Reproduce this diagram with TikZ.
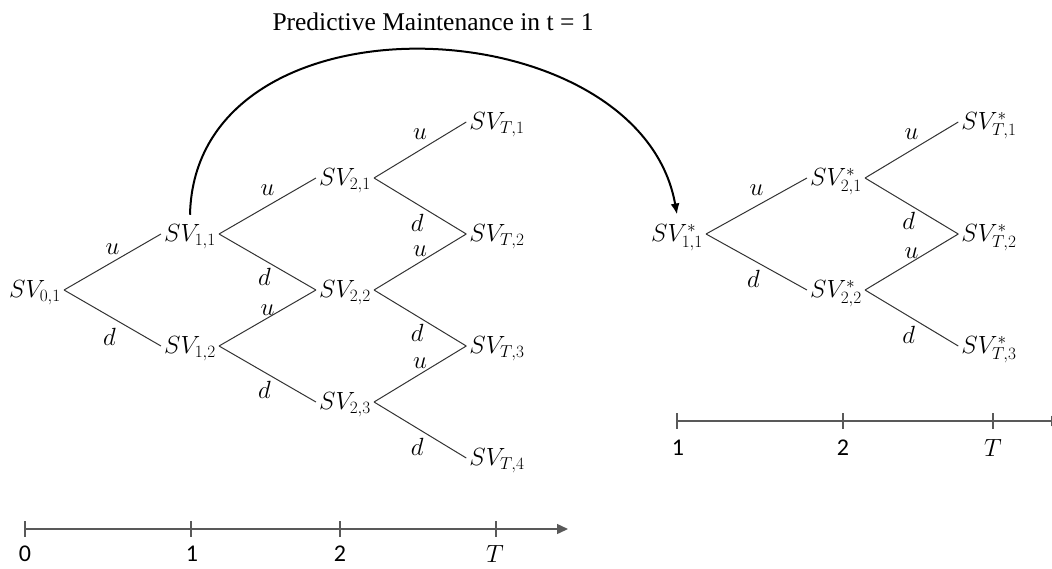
\documentclass[tikz,border=0pt]{standalone}
\usepackage{fontspec}
\setmainfont{Liberation Serif}
\newfontfamily\axisfont{Carlito}
\usetikzlibrary{arrows.meta}
\tikzset{
  sv/.style={font=\fontsize{23}{27}\selectfont, inner xsep=3pt, inner ysep=0pt},
  br/.style={draw=black!80, line width=1pt},
  lu/.style={midway, above=#1, inner sep=0pt, font=\fontsize{23}{27}\selectfont},
  lu/.default=10pt,
  ld/.style={midway, below=#1, xshift=-3pt, inner sep=0pt, font=\fontsize{23}{27}\selectfont},
  ld/.default=8pt,
  axisline/.style={draw=black!65, line width=1.4pt},
  ticklab/.style={font=\axisfont\fontsize{24}{28}\selectfont, inner sep=0pt},
  maint/.style={draw=black, line width=2pt, -{Latex[length=11pt,width=9pt]}},
  titletext/.style={font=\fontsize{25.5}{30}\selectfont, inner sep=0pt}
}
\begin{document}
\begin{tikzpicture}[x=1pt,y=-1pt]
\useasboundingbox (0,0) rectangle (1052,568);

\node[titletext] (title) at (433,22) {Predictive Maintenance in t = 1};

% left tree
\node[sv] (a01) at (35,293) {$SV_{0,1}$};
\node[sv] (a11) at (190,237) {$SV_{1,1}$};
\node[sv] (a12) at (190,349) {$SV_{1,2}$};
\node[sv] (a21) at (345,181) {$SV_{2,1}$};
\node[sv] (a22) at (345,293) {$SV_{2,2}$};
\node[sv] (a23) at (345,405) {$SV_{2,3}$};
\node[sv] (aT1) at (497,125) {$SV_{T,1}$};
\node[sv] (aT2) at (497,237) {$SV_{T,2}$};
\node[sv] (aT3) at (497,349) {$SV_{T,3}$};
\node[sv] (aT4) at (497,461) {$SV_{T,4}$};

\draw[br] ([yshift=3pt]a01.east) -- ([yshift=3pt]a11.west) node[lu=7pt] {$u$};
\draw[br] ([yshift=3pt]a01.east) -- ([yshift=3pt]a12.west) node[ld=10pt] {$d$};
\draw[br] ([yshift=3pt]a11.east) -- ([yshift=3pt]a21.west) node[lu] {$u$};
\draw[br] ([yshift=3pt]a11.east) -- ([yshift=3pt]a22.west) node[ld=6pt] {$d$};
\draw[br] ([yshift=3pt]a12.east) -- ([yshift=3pt]a22.west) node[lu=2pt] {$u$};
\draw[br] ([yshift=3pt]a12.east) -- ([yshift=3pt]a23.west) node[ld=7pt] {$d$};
\draw[br] ([yshift=3pt]a21.east) -- ([yshift=3pt]aT1.west) node[lu] {$u$};
\draw[br] ([yshift=3pt]a21.east) -- ([yshift=3pt]aT2.west) node[ld] {$d$};
\draw[br] ([yshift=3pt]a22.east) -- ([yshift=3pt]aT2.west) node[lu=5pt] {$u$};
\draw[br] ([yshift=3pt]a22.east) -- ([yshift=3pt]aT3.west) node[ld=6pt] {$d$};
\draw[br] ([yshift=3pt]a23.east) -- ([yshift=3pt]aT3.west) node[lu=5pt] {$u$};
\draw[br] ([yshift=3pt]a23.east) -- ([yshift=3pt]aT4.west) node[ld] {$d$};

% right tree
\node[sv] (b11) at (677,238) {$SV^{*}_{1,1}$};
\node[sv] (b21) at (836,182) {$SV^{*}_{2,1}$};
\node[sv] (b22) at (836,294) {$SV^{*}_{2,2}$};
\node[sv] (bT1) at (989,126) {$SV^{*}_{T,1}$};
\node[sv] (bT2) at (989,238) {$SV^{*}_{T,2}$};
\node[sv] (bT3) at (989,350) {$SV^{*}_{T,3}$};

\draw[br] ([yshift=4pt]b11.east) -- ([yshift=4pt]b21.west) node[lu] {$u$};
\draw[br] ([yshift=4pt]b11.east) -- ([yshift=4pt]b22.west) node[ld] {$d$};
\draw[br] ([yshift=4pt]b21.east) -- ([yshift=4pt]bT1.west) node[lu] {$u$};
\draw[br] ([yshift=4pt]b21.east) -- ([yshift=4pt]bT2.west) node[ld=6pt] {$d$};
\draw[br] ([yshift=4pt]b22.east) -- ([yshift=4pt]bT2.west) node[lu=3pt] {$u$};
\draw[br] ([yshift=4pt]b22.east) -- ([yshift=4pt]bT3.west) node[ld] {$d$};

% maintenance arc
\draw[maint] ([yshift=10pt]a11.north) .. controls (195,-15) and (640,5) .. ([yshift=10pt]b11.north);

% left time axis
\coordinate (l0) at (25,529);
\coordinate (l1) at (191,529);
\coordinate (l2) at (340,529);
\coordinate (lT) at (496,529);
\coordinate (lend) at (568,529);
\draw[axisline, -{Triangle[length=11pt,width=10pt]}] (l0) -- (lend);
\foreach \c in {l0,l1,l2,lT} \draw[axisline] ([yshift=8pt]\c) -- ([yshift=-8pt]\c);
\node[ticklab] (t0) at (25,554) {0};
\node[ticklab] (t1) at (192,554) {1};
\node[ticklab] (t2) at (340,554) {2};
\node[ticklab, font=\fontsize{23}{27}\selectfont] (tT) at (495,554) {$T$};

% right time axis
\coordinate (r1) at (677,421);
\coordinate (r2) at (843,421);
\coordinate (rT) at (993,421);
\coordinate (rend) at (1062,421);
\draw[axisline, -{Triangle[length=11pt,width=10pt]}] (r1) -- (rend);
\foreach \c in {r1,r2,rT} \draw[axisline] ([yshift=8pt]\c) -- ([yshift=-8pt]\c);
\node[ticklab] (s1) at (678,448) {1};
\node[ticklab] (s2) at (843,448) {2};
\node[ticklab, font=\fontsize{23}{27}\selectfont] (sT) at (993,448) {$T$};
\end{tikzpicture}
\end{document}
